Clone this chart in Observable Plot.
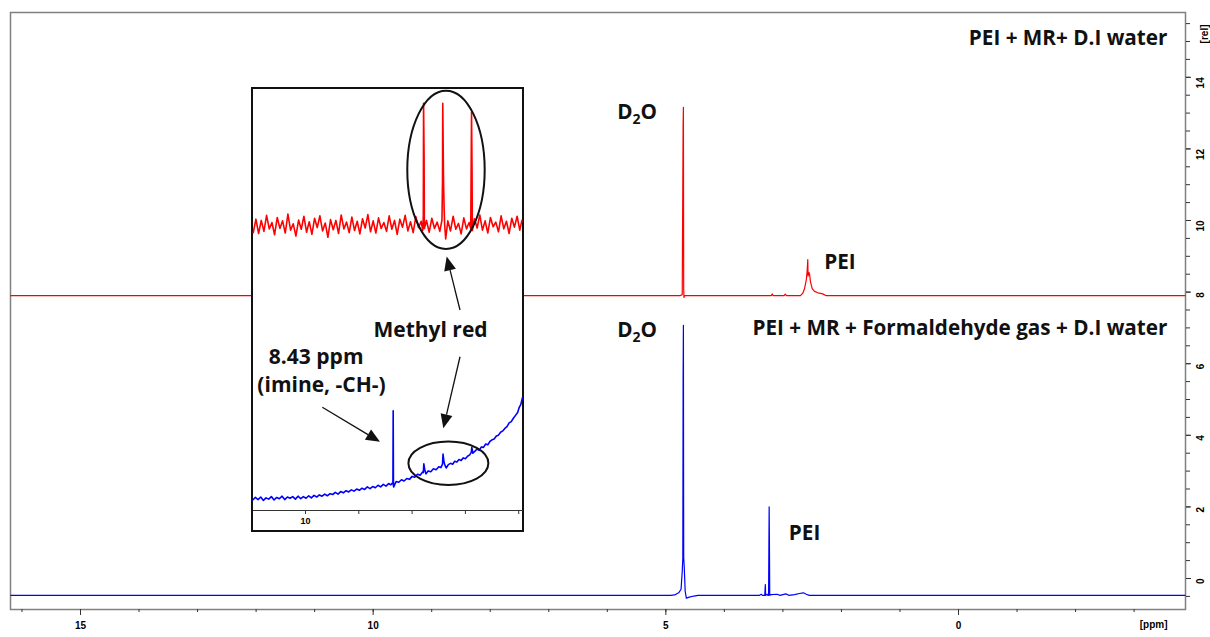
<!DOCTYPE html>
<html><head><meta charset="utf-8">
<script src="https://cdn.jsdelivr.net/npm/d3@7"></script>
<script src="https://cdn.jsdelivr.net/npm/@observablehq/plot@0.6"></script>
<style>
html,body{margin:0;padding:0;background:#fff;}
#wrap{position:relative;width:1210px;height:637px;overflow:hidden;}
#inset{position:absolute;left:251px;top:87px;width:269px;height:441px;border:2px solid #111;background:#fff;}
svg{display:block}
</style></head><body><div id="wrap"><div id="main"></div><div id="inset"></div></div>
<script>
// ---- main spectra: [ppm, intensity (rel)] ----
const redSpectrum = [
 [16.19,7.9],[4.76,7.9],[4.72,7.93],[4.705,12.65],[4.70,13.16],[4.695,8.1],[4.69,7.85],[4.68,7.9],
 [3.2,7.9],[3.18,7.95],[3.17,7.9],[2.98,7.9],[2.96,7.94],[2.94,7.9],[2.70,7.9],[2.66,7.97],[2.63,8.1],
 [2.60,8.35],[2.585,8.6],[2.575,8.91],[2.57,8.45],[2.555,8.55],[2.545,8.5],[2.53,8.3],[2.50,8.1],
 [2.46,8.02],[2.40,7.98],[2.32,7.95],[2.26,7.9],[-3.87,7.9]
];
const blueSpectrum = [
 [16.19,-0.47],[4.92,-0.47],[4.85,-0.46],[4.78,-0.4],[4.74,-0.3],[4.72,0.2],[4.71,0.55],[4.705,5.6],
 [4.70,7.07],[4.695,0.6],[4.685,0.3],[4.67,-0.35],[4.65,-0.55],[4.60,-0.52],[4.52,-0.49],[4.45,-0.47],
 [3.40,-0.47],[3.37,-0.44],[3.35,-0.47],[3.31,-0.47],[3.30,-0.17],[3.295,-0.47],[3.27,-0.44],[3.26,-0.47],
 [3.245,-0.47],[3.235,2.0],[3.23,0.92],[3.225,-0.47],[3.20,-0.45],[3.10,-0.44],[3.05,-0.47],[2.95,-0.43],
 [2.90,-0.47],[2.80,-0.45],[2.72,-0.42],[2.65,-0.40],[2.60,-0.44],[2.55,-0.47],[-3.87,-0.47]
];
const xMinorTicks = [16,15,14,13,12,11,10,9,8,7,6,5,4,3,2,1,0,-1,-2,-3];
const xMajorTicks = [15,10,5,0];
const yMinorTicks = [-0.5,0,0.5,1,1.5,2,2.5,3,3.5,4,4.5,5,5.5,6,6.5,7,7.5,8,8.5,9,9.5,10,10.5,11,11.5,12,12.5,13,13.5,14,14.5,15,15.5];
const yMajorTicks = [0,2,4,6,8,10,12,14];
const mainLabels = [
 {text:"PEI + MR+ D.I water", ppm:-3.57, rel:15.08, anchor:"end"},
 {text:"D2O", ppm:5.49, rel:13.02, anchor:"middle"},
 {text:"PEI", ppm:2.025, rel:8.83, anchor:"middle"},
 {text:"PEI + MR + Formaldehyde gas + D.I water", ppm:-3.57, rel:6.98, anchor:"end"},
 {text:"D2O", ppm:5.49, rel:6.93, anchor:"middle"},
 {text:"PEI", ppm:2.63, rel:1.26, anchor:"middle"}
];

// ---- inset (expanded 11-6 ppm region), intensity in arbitrary units ----
const insetRed = [
 [10.98,66.0],[10.93,69.2],[10.88,65.8],[10.83,68.9],[10.78,66.3],[10.73,70.1],[10.68,66.9],[10.63,68.4],
 [10.58,65.5],[10.53,69.6],[10.48,67.0],[10.43,68.8],[10.38,65.9],[10.33,70.4],[10.28,66.6],[10.23,68.1],
 [10.18,65.2],[10.13,69.0],[10.08,66.8],[10.03,69.9],[9.98,66.1],[9.93,68.6],[9.88,65.6],[9.83,69.4],
 [9.78,67.2],[9.73,70.0],[9.68,66.4],[9.63,68.3],[9.58,64.9],[9.53,69.1],[9.48,66.7],[9.43,68.9],
 [9.38,65.8],[9.33,70.2],[9.28,66.9],[9.23,68.5],[9.18,66.0],[9.13,69.7],[9.08,66.5],[9.03,68.7],
 [8.98,65.7],[8.93,69.3],[8.88,67.1],[8.83,70.3],[8.78,66.2],[8.73,68.8],[8.68,65.9],[8.63,69.5],
 [8.58,67.0],[8.53,68.4],[8.48,66.3],[8.43,70.0],[8.38,66.8],[8.33,68.9],[8.28,65.6],[8.23,69.2],
 [8.18,67.3],[8.13,70.1],[8.08,66.4],[8.03,68.6],[7.98,66.0],[7.93,69.8],[7.88,67.2],[7.83,68.7],
 [7.80,66.5],[7.79,70.0],[7.785,96.7],[7.775,84.0],[7.77,67.0],[7.73,68.9],[7.68,66.1],[7.63,69.4],
 [7.58,67.0],[7.53,68.5],[7.48,66.3],[7.44,69.0],[7.43,78.0],[7.425,96.7],[7.415,83.8],[7.41,78.0],
 [7.40,72.0],[7.39,68.0],[7.37,64.5],[7.33,68.8],[7.28,66.4],[7.23,69.9],[7.18,66.8],[7.13,68.2],
 [7.08,65.7],[7.03,69.5],[6.98,66.9],[6.93,68.4],[6.90,67.0],[6.885,94.6],[6.875,80.0],[6.87,66.5],
 [6.83,69.3],[6.78,67.1],[6.73,70.2],[6.68,66.6],[6.63,68.8],[6.58,65.9],[6.53,69.6],[6.48,67.4],
 [6.43,68.5],[6.38,66.2],[6.33,70.0],[6.28,66.9],[6.23,68.7],[6.18,65.8],[6.13,69.4],[6.08,67.3],
 [6.03,69.9],[5.98,66.6],[5.94,68.9]
];
const insetBlue = [
 [10.99,2.5],[10.94,3.1],[10.89,2.6],[10.84,3.2],[10.79,2.4],[10.74,3.0],[10.69,2.7],[10.64,3.3],
 [10.59,2.5],[10.54,3.1],[10.49,2.8],[10.44,3.4],[10.39,2.6],[10.34,3.2],[10.29,2.9],[10.24,3.3],
 [10.19,2.7],[10.14,3.4],[10.09,2.8],[10.04,3.3],[9.99,2.9],[9.94,3.5],[9.89,3.0],[9.84,3.6],
 [9.79,3.2],[9.74,3.7],[9.69,3.4],[9.64,3.9],[9.59,3.5],[9.54,4.0],[9.49,3.8],[9.44,4.3],
 [9.39,3.9],[9.34,4.5],[9.29,4.2],[9.24,4.7],[9.19,4.4],[9.14,4.9],[9.09,4.6],[9.04,5.1],
 [8.99,4.8],[8.94,5.3],[8.89,5.0],[8.84,5.6],[8.79,5.2],[8.74,5.7],[8.69,5.4],[8.64,6.0],
 [8.59,5.6],[8.54,6.2],[8.49,5.8],[8.44,6.4],[8.40,6.1],[8.37,6.5],[8.36,6.3],[8.355,23.7],
 [8.35,5.8],[8.345,5.6],[8.30,6.9],[8.25,6.7],[8.20,7.3],[8.15,7.0],[8.10,7.6],[8.05,7.4],
 [8.00,8.1],[7.95,7.9],[7.90,8.6],[7.85,8.4],[7.80,9.2],[7.79,9.0],[7.78,11.1],[7.76,9.5],
 [7.74,8.7],[7.70,9.4],[7.65,9.2],[7.60,9.9],[7.55,9.7],[7.50,10.4],[7.46,10.2],[7.43,11.0],
 [7.42,13.4],[7.40,11.4],[7.38,10.6],[7.36,10.1],[7.32,10.9],[7.28,11.2],[7.24,11.0],[7.20,11.7],
 [7.16,11.5],[7.12,12.1],[7.08,11.9],[7.04,12.5],[7.00,12.3],[6.96,12.9],[6.92,13.2],[6.89,13.8],
 [6.88,15.0],[6.86,13.6],[6.82,14.1],[6.78,14.6],[6.74,14.3],[6.70,15.1],[6.66,15.0],[6.62,15.8],
 [6.58,15.6],[6.54,16.4],[6.50,16.8],[6.46,17.0],[6.42,17.7],[6.38,17.9],[6.34,18.6],[6.30,18.9],
 [6.26,19.5],[6.22,19.9],[6.18,20.8],[6.14,21.1],[6.10,21.9],[6.06,22.6],[6.02,23.3],[5.99,24.5],
 [5.96,25.2],[5.93,26.8]
];
const insetTicks = [10,9,8,7,6];
const insetLabels = [
 {text:"Methyl red", ppm:7.655, rel:42.8},
 {text:"8.43 ppm", ppm:9.80, rel:36.3},
 {text:"(imine, -CH-)", ppm:9.70, rel:29.7}
];
const insetEllipses = [
 {ppm:7.355, rel:80.8, rxPpm:0.726, ryRel:18.8},
 {ppm:7.31, rel:11.1, rxPpm:0.75, ryRel:5.15}
];
const insetArrows = [
 {x1:7.092, y1:47.5, x2:7.342, y2:60.2},
 {x1:7.092, y1:36.4, x2:7.405, y2:19.4},
 {x1:9.675, y1:24.4, x2:8.593, y2:16.2}
];

const LABEL_FONT = "'Open Sans', Lato, sans-serif";

function subscriptD2O(svg){
  d3.select(svg).selectAll("text").filter(function(){return this.textContent==="D2O";}).each(function(){
    const t = d3.select(this);
    t.text(null);
    t.append("tspan").text("D");
    t.append("tspan").attr("dy", 5).attr("font-size", 14).text("2");
    t.append("tspan").attr("dy", -5).text("O");
  });
}

const main = Plot.plot({
  width: 1210, height: 637,
  marginLeft: 10, marginRight: 25, marginTop: 12, marginBottom: 28,
  style: {fontFamily: "'Liberation Sans', Arial, sans-serif", fontSize: "10px", background: "#fff"},
  x: {domain: [16.196, -3.878], label: null},
  y: {domain: [-0.866, 15.81], label: null},
  marks: [
    Plot.frame({stroke: "#808080", strokeWidth: 1.5}),
    Plot.line(redSpectrum, {x: d => d[0], y: d => d[1], stroke: "#ff0000", strokeWidth: 1.2}),
    Plot.line(blueSpectrum, {x: d => d[0], y: d => d[1], stroke: "#0000ff", strokeWidth: 1.2}),
    Plot.axisX({ticks: xMinorTicks, tickSize: 3, tickFormat: () => "", label: null, stroke: "#333"}),
    Plot.axisX({ticks: xMajorTicks, tickSize: 6, tickPadding: 6, fontWeight: "bold", label: null, stroke: "#333"}),
    Plot.axisY({anchor: "right", ticks: yMinorTicks, tickSize: 4, tickFormat: () => "", label: null, stroke: "#333"}),
    Plot.axisY({anchor: "right", ticks: yMajorTicks, tickSize: 5, tickFormat: () => "", label: null, stroke: "#333"}),
    Plot.text(yMajorTicks, {y: d => d, text: d => String(d), frameAnchor: "right", dx: 15, rotate: -90, fontWeight: "bold", fontSize: 10}),
    Plot.text(["[rel]"], {frameAnchor: "top-right", dx: 15, dy: 12, rotate: -90, fontWeight: "bold", fontSize: 10}),
    Plot.text(["[ppm]"], {frameAnchor: "bottom-right", dx: -18, dy: 18, fontWeight: "bold", fontSize: 10}),
    Plot.text(mainLabels.filter(d => d.anchor === "end"), {x: "ppm", y: "rel", text: "text", textAnchor: "end", fontFamily: LABEL_FONT, fontWeight: "bold", fontSize: 20.7, fill: "#111"}),
    Plot.text(mainLabels.filter(d => d.anchor === "middle"), {x: "ppm", y: "rel", text: "text", textAnchor: "middle", fontFamily: LABEL_FONT, fontWeight: "bold", fontSize: 20.7, fill: "#111"})
  ]
});
subscriptD2O(main);
document.getElementById("main").appendChild(main);

const inset = Plot.plot({
  width: 269, height: 441,
  marginLeft: 0, marginRight: 0, marginTop: 0, marginBottom: 20,
  style: {fontFamily: "'Liberation Sans', Arial, sans-serif", fontSize: "9px", background: "#fff", overflow: "visible"},
  x: {domain: [10.9756, 5.929], label: null},
  y: {domain: [0, 100], label: null, axis: null},
  marks: [
    Plot.line(insetRed, {x: d => d[0], y: d => d[1], stroke: "#ff0000", strokeWidth: 1.6}),
    Plot.line(insetBlue, {x: d => d[0], y: d => d[1], stroke: "#0000ff", strokeWidth: 1.6}),
    Plot.frame({anchor: "bottom", stroke: "#333"}),
    Plot.axisX({ticks: insetTicks, tickSize: 4, tickPadding: 3, tickFormat: d => d === 10 ? "10" : "", fontWeight: "bold", label: null, stroke: "#333"}),
    Plot.text(insetLabels, {x: "ppm", y: "rel", text: "text", fontFamily: LABEL_FONT, fontWeight: "bold", fontSize: 21, fill: "#111"})
  ]
});
{
  const sx = inset.scale("x"), sy = inset.scale("y");
  const g = d3.select(inset).append("g");
  for (const e of insetEllipses) {
    const cx = sx.apply(e.ppm), cy = sy.apply(e.rel);
    const rx = Math.abs(sx.apply(e.ppm + e.rxPpm) - cx), ry = Math.abs(sy.apply(e.rel + e.ryRel) - cy);
    g.append("ellipse").attr("cx", cx).attr("cy", cy).attr("rx", rx).attr("ry", ry)
      .attr("fill", "none").attr("stroke", "#111").attr("stroke-width", 2);
  }
  for (const a of insetArrows) {
    const x1 = sx.apply(a.x1), y1 = sy.apply(a.y1), x2 = sx.apply(a.x2), y2 = sy.apply(a.y2);
    const ang = Math.atan2(y2 - y1, x2 - x1), L = 14, W = 6;
    const bx = x2 - L * Math.cos(ang), by = y2 - L * Math.sin(ang);
    g.append("line").attr("x1", x1).attr("y1", y1).attr("x2", bx).attr("y2", by).attr("stroke", "#111").attr("stroke-width", 1.3);
    const px = -Math.sin(ang) * W, py = Math.cos(ang) * W;
    g.append("path").attr("d", `M${x2},${y2}L${bx + px},${by + py}L${bx - px},${by - py}Z`).attr("fill", "#111");
  }
}
document.getElementById("inset").appendChild(inset);
</script></body></html>
